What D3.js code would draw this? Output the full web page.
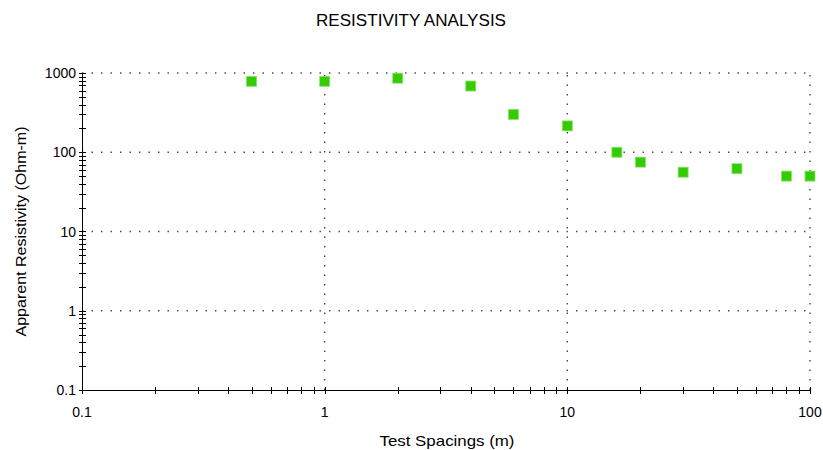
<!DOCTYPE html>
<html>
<head>
<meta charset="utf-8">
<script src="https://cdn.jsdelivr.net/npm/d3@7"></script>
<style>
  body { margin: 0; background: #fff; }
  text { font-family: "Liberation Sans", Arial, sans-serif; fill: #000; }
</style>
</head>
<body>
<svg id="chart"></svg>
<script>
// test spacings (m) and apparent resistivity (Ohm-m)
const spacings = [0.5, 1, 2, 4, 6, 10, 16, 20, 30, 50, 80, 100];
const resistivity = [785, 785, 860, 685, 300, 215, 100, 75, 56, 62, 50, 50];
const xTicks = [0.1, 1, 10, 100];
const yTicks = [0.1, 1, 10, 100, 1000];

const W = 823, H = 450;
const margin = {top: 73, right: 13, bottom: 60, left: 82};

const svg = d3.select("#chart").attr("width", W).attr("height", H);

const x = d3.scaleLog().domain([0.1, 100]).range([margin.left, W - margin.right]);
const y = d3.scaleLog().domain([0.1, 1000]).range([H - margin.bottom, margin.top]);

// minor tick values, 1..9 in every decade
function minors(lo, hi) {
  const out = [];
  for (let d = lo; d < hi; d *= 10)
    for (let k = 1; k <= 9; k++) out.push(d * k);
  out.push(hi);
  return out;
}

// dotted grid
const grid = svg.append("g").attr("stroke", "#444").attr("stroke-width", 1.4)
  .attr("stroke-dasharray", "1.4,8.1");
grid.selectAll(".gx").data(xTicks.slice(1)).enter().append("line")
  .attr("x1", d => x(d)).attr("x2", d => x(d))
  .attr("y1", y(0.1)).attr("y2", y(1000));
grid.selectAll(".gy").data(yTicks.slice(1)).enter().append("line")
  .attr("x1", x(0.1)).attr("x2", x(100))
  .attr("y1", d => y(d)).attr("y2", d => y(d));

// axes lines
const axes = svg.append("g").attr("stroke", "#000").attr("stroke-width", 1);
axes.append("line").attr("x1", x(0.1) + 0.5).attr("x2", x(0.1) + 0.5)
  .attr("y1", y(1000)).attr("y2", y(0.1));
axes.append("line").attr("x1", x(0.1)).attr("x2", x(100))
  .attr("y1", y(0.1) + 0.5).attr("y2", y(0.1) + 0.5);

// ticks straddling the axes
axes.selectAll(".ty").data(minors(0.1, 1000)).enter().append("line")
  .attr("x1", x(0.1) - 3).attr("x2", x(0.1) + 4)
  .attr("y1", d => Math.round(y(d)) + 0.5).attr("y2", d => Math.round(y(d)) + 0.5);
axes.selectAll(".tx").data(minors(0.1, 100)).enter().append("line")
  .attr("x1", d => Math.round(x(d)) + 0.5).attr("x2", d => Math.round(x(d)) + 0.5)
  .attr("y1", y(0.1) - 3).attr("y2", y(0.1) + 4);

// tick labels
svg.selectAll(".ly").data(yTicks).enter().append("text")
  .attr("x", x(0.1) - 6).attr("y", d => y(d) + 5)
  .attr("text-anchor", "end").style("font-size", "14px")
  .text(d => d3.format("")(d));
svg.selectAll(".lx").data(xTicks).enter().append("text")
  .attr("x", d => x(d)).attr("y", y(0.1) + 27)
  .attr("text-anchor", "middle").style("font-size", "14px")
  .text(d => d3.format("")(d));

// points
svg.append("g").selectAll("rect")
  .data(spacings.map((s, i) => ({s: s, r: resistivity[i]})))
  .enter().append("rect")
    .attr("x", d => x(d.s) - 5).attr("y", d => y(d.r) - 5)
    .attr("width", 10).attr("height", 10)
    .attr("fill", "#33cc00")
    .attr("stroke", "#8fe070").attr("stroke-width", 0.8);

// titles
svg.append("text").attr("x", 411).attr("y", 26)
  .attr("text-anchor", "middle").style("font-size", "16px")
  .attr("textLength", 190).attr("lengthAdjust", "spacingAndGlyphs")
  .text("RESISTIVITY ANALYSIS");
svg.append("text").attr("x", 447).attr("y", 446)
  .attr("text-anchor", "middle").style("font-size", "15px")
  .attr("textLength", 135).attr("lengthAdjust", "spacingAndGlyphs")
  .text("Test Spacings (m)");
svg.append("text")
  .attr("transform", "translate(26," + (y(1) + y(100)) / 2 + ") rotate(-90)")
  .attr("text-anchor", "middle").style("font-size", "15px")
  .attr("textLength", 210).attr("lengthAdjust", "spacingAndGlyphs")
  .text("Apparent Resistivity (Ohm-m)");
</script>
</body>
</html>
